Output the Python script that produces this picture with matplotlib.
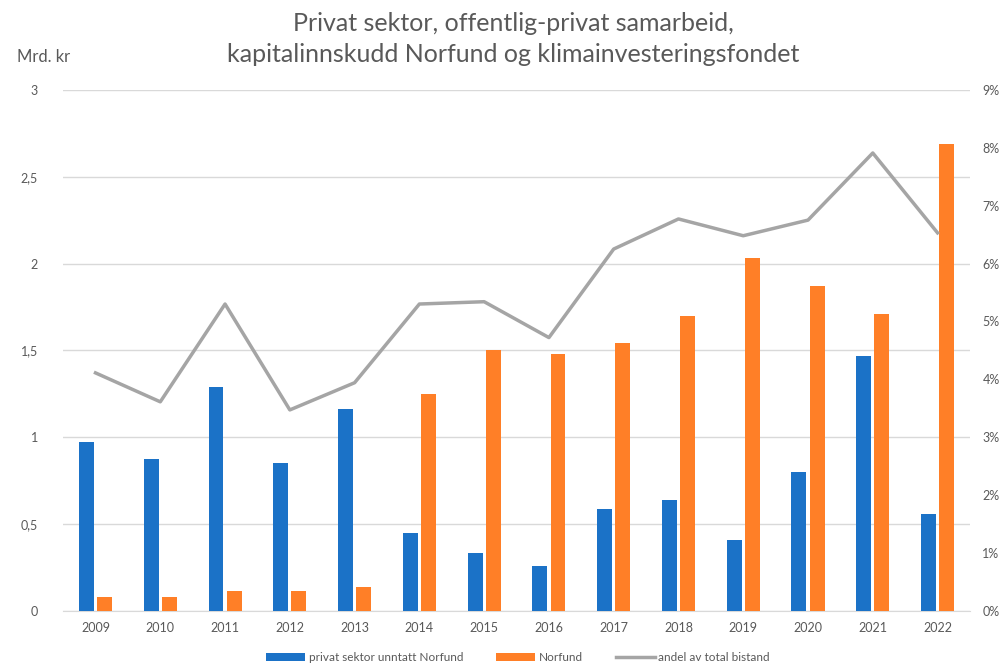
import numpy as np
import matplotlib.pyplot as plt
from matplotlib.ticker import FuncFormatter

plt.rcParams['font.family'] = ['Lato', 'DejaVu Sans']

years = ['2009', '2010', '2011', '2012', '2013', '2014', '2015', '2016',
         '2017', '2018', '2019', '2020', '2021', '2022']
privat = [0.97, 0.875, 1.29, 0.85, 1.16, 0.445, 0.335, 0.26,
          0.585, 0.64, 0.41, 0.80, 1.47, 0.555]
norfund = [0.08, 0.08, 0.115, 0.115, 0.135, 1.25, 1.50, 1.48,
           1.54, 1.70, 2.03, 1.87, 1.71, 2.69]
andel = [4.11, 3.61, 5.30, 3.47, 3.94, 5.30, 5.34, 4.72,
         6.25, 6.77, 6.48, 6.75, 7.91, 6.53]

blue = '#1B72C7'
orange = '#FF7F27'
grey = '#A5A5A5'
txt = '#595959'

fig = plt.figure(figsize=(10.02, 6.66), dpi=100)
ax = fig.add_axes([0.063, 0.083, 0.905, 0.782])
ax2 = ax.twinx()

x = np.arange(len(years))
w = 0.23
b1 = ax.bar(x - 0.14, privat, w, color=blue, zorder=3, label='privat sektor unntatt Norfund')
b2 = ax.bar(x + 0.14, norfund, w, color=orange, zorder=3, label='Norfund')
l1, = ax2.plot(x, andel, color=grey, lw=2.5, zorder=4, label='andel av total bistand')

ax.set_xlim(-0.5, len(years) - 0.5)
ax.set_ylim(0, 3)
ax2.set_ylim(0, 9)
ax.set_yticks(np.arange(0, 3.01, 0.5))
ax.yaxis.set_major_formatter(FuncFormatter(lambda v, p: ('%g' % v).replace('.', ',')))
ax2.set_yticks(range(0, 10))
ax2.yaxis.set_major_formatter(FuncFormatter(lambda v, p: '%d%%' % v))
ax.set_xticks(x)
ax.set_xticklabels(years)

ax.grid(axis='y', color='#D9D9D9', lw=1, zorder=0)
for a in (ax, ax2):
    for s in a.spines.values():
        s.set_visible(False)
    a.tick_params(length=0, colors=txt, labelsize=9)
ax.spines['bottom'].set_visible(True)
ax.spines['bottom'].set_color('#D9D9D9')
ax.tick_params(axis='y', pad=18)
ax2.tick_params(axis='y', pad=9)
ax.tick_params(axis='x', pad=8)
ax2.patch.set_visible(False)

fig.text(0.512, 0.941, 'Privat sektor, offentlig-privat samarbeid,\nkapitalinnskudd Norfund og klimainvesteringsfondet',
         ha='center', va='center', fontsize=18, color=txt, linespacing=1.4)
fig.text(0.017, 0.915, 'Mrd. kr', ha='left', va='center', fontsize=12, color=txt)

fig.legend(handles=[b1, b2, l1], loc='lower center', bbox_to_anchor=(0.517, -0.012),
           ncol=3, frameon=False, fontsize=8.5, labelcolor=txt,
           handlelength=3.3, handleheight=0.7, handletextpad=0.3, columnspacing=2.8)

fig.savefig('out.png', dpi=100)
